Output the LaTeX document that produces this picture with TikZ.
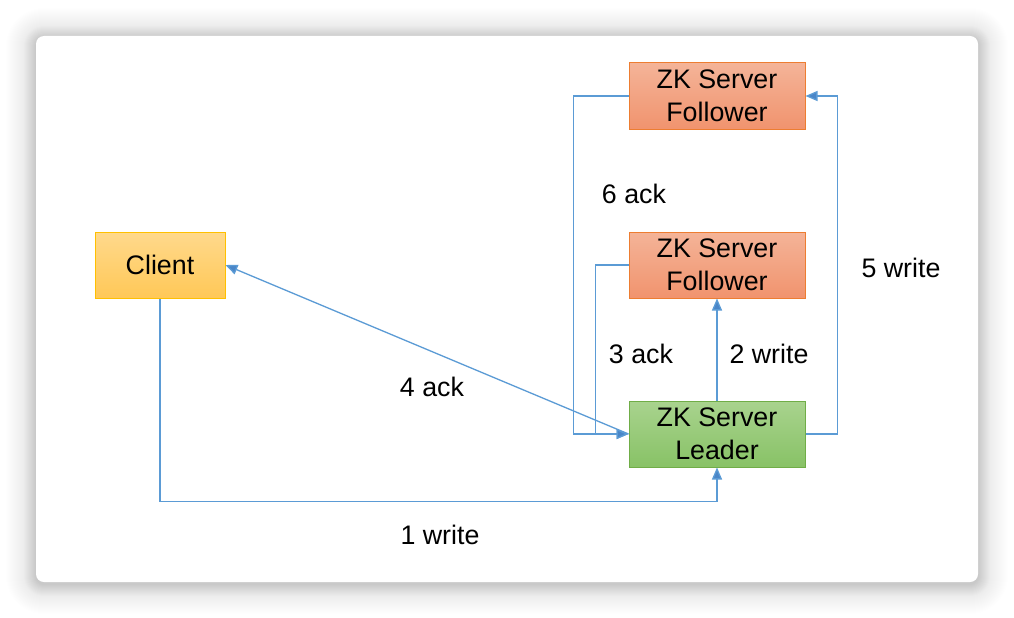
\documentclass[tikz,border=0pt]{standalone}
\usepackage{fontspec}
\setmainfont{Liberation Sans}
\usetikzlibrary{arrows.meta}
\definecolor{conn}{HTML}{5B9BD5}
\definecolor{arrowc}{HTML}{4A86C8}
\definecolor{folTop}{HTML}{F4B498}
\definecolor{folBot}{HTML}{F1936E}
\definecolor{folLine}{HTML}{ED7D31}
\definecolor{leadTop}{HTML}{A9D38E}
\definecolor{leadBot}{HTML}{88C266}
\definecolor{leadLine}{HTML}{70AD47}
\definecolor{cliTop}{HTML}{FFD98C}
\definecolor{cliBot}{HTML}{FFC857}
\definecolor{cliLine}{HTML}{FFC000}
\tikzset{
  box/.style={draw, line width=1pt, minimum width=176pt, minimum height=66pt, inner sep=0pt,
    align=center, font=\fontsize{26.8}{33}\selectfont},
  follower/.style={box, draw=folLine, top color=folTop, bottom color=folBot},
  leader/.style={box, draw=leadLine, top color=leadTop, bottom color=leadBot},
  client/.style={box, draw=cliLine, top color=cliTop, bottom color=cliBot, minimum width=130pt},
  conn/.style={draw=conn, line width=1.3pt, -{Triangle[length=12pt,width=10pt,fill=arrowc]}},
  lbl/.style={font=\fontsize{26.8}{33}\selectfont, inner sep=0pt}
}
\begin{document}
\begin{tikzpicture}[x=1pt,y=-1pt]
\useasboundingbox (0,0) rectangle (1014,618);
% shadow
\foreach \d in {1,2,...,30}{
  \fill[black, opacity=0.004, rounded corners=8pt+\d pt] (36-\d,36-\d+2) rectangle (978+\d,582+\d+2);
}
\foreach \d in {1,2,...,12}{
  \fill[black, opacity=0.006, rounded corners=8pt+\d pt] (36-\d,36-\d+2) rectangle (978+\d,582+\d+2);
}
\fill[white, rounded corners=8pt] (36,36) rectangle (978,582);

\node[follower] (F1) at (717,96) {ZK Server\\Follower};
\node[follower] (F2) at (717,265) {ZK Server\\Follower};
\node[leader] (L) at (717,434) {ZK Server\\Leader};
\node[client] (C) at (160,265) {Client};

\draw[conn] (C.south) -- ++(0,203) -| (L.south);
\draw[conn] (L.north) -- (F2.south);
\draw[conn] (F2.west) -- ++(-33,0) |- (L.west);
\draw[conn] (L.west) -- (C.east);
\draw[conn] (L.east) -- ++(32,0) |- (F1.east);
\draw[conn] (F1.west) -- ++(-55,0) |- (L.west);

\node[lbl] (l6) at (634,194) {6 ack};
\node[lbl] (l5) at (901,268) {5 write};
\node[lbl] (l3) at (641,354) {3 ack};
\node[lbl] (l2) at (769,354) {2 write};
\node[lbl] (l4) at (432,387) {4 ack};
\node[lbl] (l1) at (440,535) {1 write};
\end{tikzpicture}
\end{document}
